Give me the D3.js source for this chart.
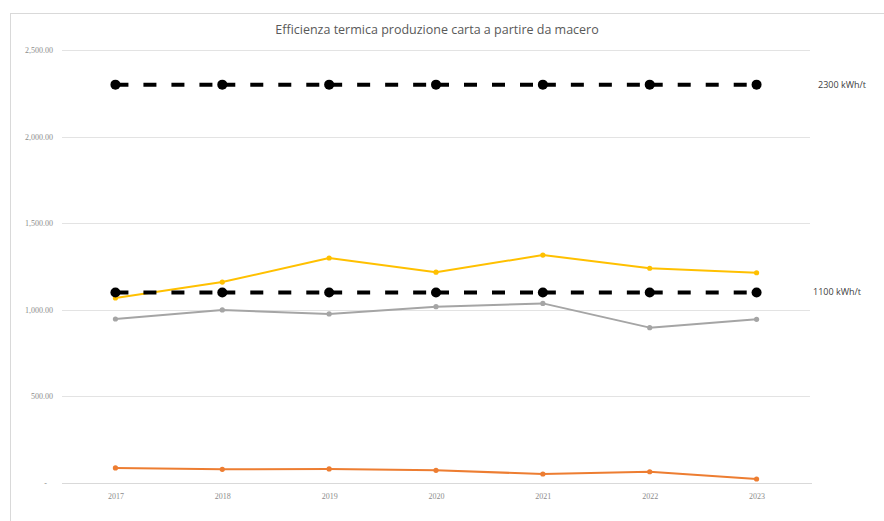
<!DOCTYPE html>
<html>
<head>
<meta charset="utf-8">
<script src="https://cdn.jsdelivr.net/npm/d3@7"></script>
<style>
  html, body { margin: 0; padding: 0; background: #fff; }
  svg { display: block; }
</style>
</head>
<body>
<svg id="chart" width="884" height="521"></svg>
<script>
const years = ["2017", "2018", "2019", "2020", "2021", "2022", "2023"];
const yellowValues = [1068, 1160, 1299, 1217, 1316, 1240, 1214];
const grayValues = [947, 999, 976, 1018, 1037, 897, 945];
const orangeValues = [87, 79, 81, 73, 52, 65, 23];
const upperRef = [2300, 2300, 2300, 2300, 2300, 2300, 2300];
const lowerRef = [1100, 1100, 1100, 1100, 1100, 1100, 1100];
const yTicks = [0, 500, 1000, 1500, 2000, 2500];
const title = "Efficienza termica produzione carta a partire da macero";
const upperLabel = "2300 kWh/t";
const lowerLabel = "1100 kWh/t";

const svg = d3.select("#chart");
const W = 884, H = 521;
const m = { left: 62, right: 74, top: 50, bottom: 38 };

// chart frame
svg.append("rect").attr("x", 10.5).attr("y", 13.5).attr("width", W + 10).attr("height", H + 10)
  .attr("fill", "#fff").attr("stroke", "#d9d9d9").attr("stroke-width", 1);

const x = d3.scalePoint().domain(years).range([m.left, W - m.right]).padding(0.5);
const y = d3.scaleLinear().domain([0, 2500]).range([H - m.bottom, m.top]);

// gridlines
svg.append("g").selectAll("line").data(yTicks.filter(d => d > 0)).join("line")
  .attr("x1", m.left).attr("x2", W - m.right)
  .attr("y1", d => Math.round(y(d)) + 0.5).attr("y2", d => Math.round(y(d)) + 0.5)
  .attr("stroke", "#e3e3e3").attr("stroke-width", 1);

// baseline
svg.append("line").attr("x1", m.left).attr("x2", W - m.right + 2)
  .attr("y1", Math.round(y(0)) + 0.5).attr("y2", Math.round(y(0)) + 0.5)
  .attr("stroke", "#d9d9d9").attr("stroke-width", 1);

// y axis labels
const yAxis = d3.axisLeft(y).tickValues(yTicks).tickSize(0).tickPadding(9)
  .tickFormat(d => d === 0 ? "-" : d3.format(",.2f")(d));
const gy = svg.append("g").attr("transform", `translate(${m.left},0)`).call(yAxis);
gy.select(".domain").remove();
gy.selectAll("text").attr("fill", "#8c8c8c").attr("font-size", "8px")
  .attr("font-family", "'Liberation Serif', 'DejaVu Serif', serif");
gy.selectAll(".tick").filter(d => d === 0).select("text").attr("dx", "-6");

// x axis labels
const xAxis = d3.axisBottom(x).tickSize(0).tickPadding(10);
const gx = svg.append("g").attr("transform", `translate(0,${y(0)})`).call(xAxis);
gx.select(".domain").remove();
gx.selectAll("text").attr("fill", "#8c8c8c").attr("font-size", "8px")
  .attr("font-family", "'Liberation Serif', 'DejaVu Serif', serif");

// title
svg.append("text").attr("x", 437).attr("y", 34).attr("text-anchor", "middle")
  .attr("fill", "#595959").attr("font-size", "12.5px")
  .attr("font-family", "'Open Sans', 'Noto Sans', sans-serif").text(title);

const line = d3.line().x((d, i) => x(years[i])).y(d => y(d));

function series(values, color, width, r) {
  svg.append("path").datum(values).attr("d", line).attr("fill", "none")
    .attr("stroke", color).attr("stroke-width", width).attr("stroke-linejoin", "round");
  svg.append("g").selectAll("circle").data(values).join("circle")
    .attr("cx", (d, i) => x(years[i])).attr("cy", d => y(d)).attr("r", r).attr("fill", color);
}

series(grayValues, "#a5a5a5", 2, 2.6);
series(orangeValues, "#ed7d31", 2, 2.6);
series(yellowValues, "#ffc000", 2, 2.6);

function refSeries(values) {
  // dash pattern restarts at each segment, as in the original
  const segs = d3.pairs(values.map((v, i) => [years[i], v]));
  svg.append("g").selectAll("line").data(segs).join("line")
    .attr("x1", d => x(d[0][0])).attr("y1", d => y(d[0][1]))
    .attr("x2", d => x(d[1][0])).attr("y2", d => y(d[1][1]))
    .attr("stroke", "#000").attr("stroke-width", 4).attr("stroke-dasharray", "13,15");
  svg.append("g").selectAll("circle").data(values).join("circle")
    .attr("cx", (d, i) => x(years[i])).attr("cy", d => y(d)).attr("r", 5).attr("fill", "#000");
}
refSeries(lowerRef);
refSeries(upperRef);

svg.append("text").attr("x", 818).attr("y", y(2300) + 3).attr("fill", "#404040")
  .attr("font-size", "9px").attr("font-family", "'Open Sans', 'Noto Sans', sans-serif").text(upperLabel);
svg.append("text").attr("x", 813).attr("y", y(1100) + 3).attr("fill", "#404040")
  .attr("font-size", "9px").attr("font-family", "'Open Sans', 'Noto Sans', sans-serif").text(lowerLabel);
</script>
</body>
</html>
